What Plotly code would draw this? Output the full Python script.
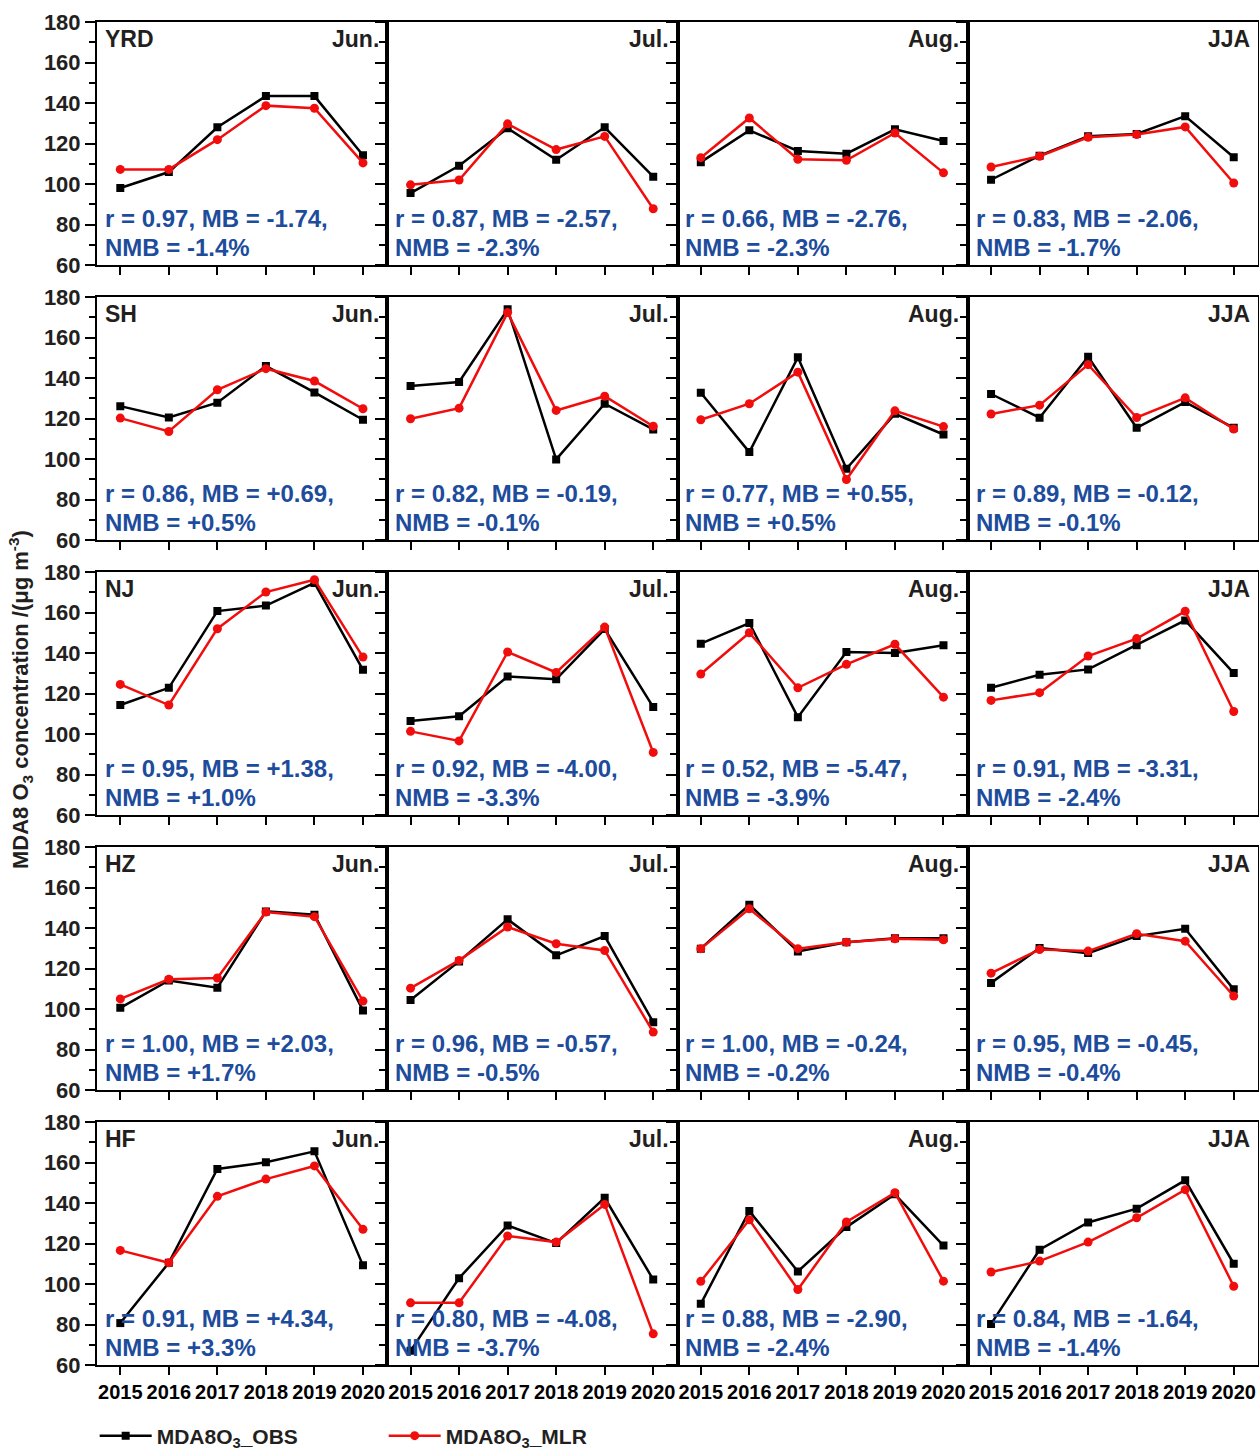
import plotly.graph_objects as go
from plotly.subplots import make_subplots

# ---------------- data ----------------
years = [2015, 2016, 2017, 2018, 2019, 2020]
regions = ["YRD", "SH", "NJ", "HZ", "HF"]
periods = ["Jun.", "Jul.", "Aug.", "JJA"]

# observed MDA8 O3 (Jun, Jul, Aug, JJA)
YRD_OBS_JUN = [98.0, 105.9, 128.0, 143.4, 143.4, 114.2]
YRD_OBS_JUL = [95.5, 109.0, 127.5, 112.0, 128.0, 103.6]
YRD_OBS_AUG = [110.8, 126.5, 116.3, 115.0, 127.0, 121.2]
YRD_OBS_JJA = [102.1, 114.0, 123.6, 124.7, 133.5, 113.2]
SH_OBS_JUN = [126.1, 120.5, 127.8, 145.9, 132.9, 119.4]
SH_OBS_JUL = [136.0, 138.0, 173.9, 99.8, 127.3, 114.6]
SH_OBS_AUG = [132.7, 103.4, 150.2, 95.2, 122.3, 112.1]
SH_OBS_JJA = [132.1, 120.4, 150.5, 115.4, 128.1, 115.4]
NJ_OBS_JUN = [114.3, 122.8, 160.7, 163.4, 174.6, 131.7]
NJ_OBS_JUL = [106.4, 108.8, 128.4, 127.0, 151.8, 113.3]
NJ_OBS_AUG = [144.6, 154.8, 108.3, 140.5, 140.0, 143.8]
NJ_OBS_JJA = [122.8, 129.3, 131.9, 143.8, 156.1, 130.1]
HZ_OBS_JUN = [100.6, 114.1, 110.5, 148.2, 146.6, 99.3]
HZ_OBS_JUL = [104.4, 123.5, 144.3, 126.5, 136.0, 93.5]
HZ_OBS_AUG = [129.8, 151.5, 128.4, 133.0, 135.0, 135.0]
HZ_OBS_JJA = [112.9, 130.1, 127.6, 136.0, 139.6, 109.7]
HF_OBS_JUN = [80.7, 110.5, 156.8, 160.1, 165.5, 109.2]
HF_OBS_JUL = [67.0, 102.9, 128.9, 120.2, 142.6, 102.2]
HF_OBS_AUG = [90.2, 136.0, 106.2, 128.1, 144.3, 119.0]
HF_OBS_JJA = [80.3, 116.9, 130.4, 137.2, 151.2, 110.0]

# MLR-modelled MDA8 O3 (Jun, Jul, Aug, JJA)
YRD_MLR_JUN = [107.2, 107.2, 121.9, 138.7, 137.4, 110.4]
YRD_MLR_JUL = [99.6, 102.0, 129.7, 117.0, 123.5, 87.8]
YRD_MLR_AUG = [113.0, 132.6, 112.2, 111.7, 125.2, 105.5]
YRD_MLR_JJA = [108.4, 113.7, 123.1, 124.4, 128.2, 100.5]
SH_MLR_JUN = [120.2, 113.6, 134.2, 144.6, 138.5, 124.8]
SH_MLR_JUL = [119.9, 125.1, 172.3, 124.0, 131.0, 116.2]
SH_MLR_AUG = [119.4, 127.3, 142.9, 89.9, 123.8, 116.0]
SH_MLR_JJA = [122.2, 126.6, 146.6, 120.5, 130.2, 114.8]
NJ_MLR_JUN = [124.5, 114.3, 152.0, 170.1, 176.2, 138.0]
NJ_MLR_JUL = [101.3, 96.6, 140.5, 130.4, 152.8, 90.9]
NJ_MLR_AUG = [129.6, 150.0, 122.8, 134.4, 144.3, 118.2]
NJ_MLR_JJA = [116.6, 120.4, 138.5, 147.1, 160.6, 111.1]
HZ_MLR_JUN = [105.0, 114.7, 115.3, 147.9, 145.6, 103.9]
HZ_MLR_JUL = [110.3, 124.0, 140.5, 132.2, 128.9, 88.6]
HZ_MLR_AUG = [129.8, 149.5, 129.8, 133.0, 134.7, 134.2]
HZ_MLR_JJA = [117.7, 129.4, 128.6, 137.2, 133.5, 106.4]
HF_MLR_JUN = [116.6, 110.5, 143.3, 151.8, 158.3, 127.0]
HF_MLR_JUL = [90.7, 90.7, 123.7, 120.7, 139.3, 75.4]
HF_MLR_AUG = [101.3, 131.7, 97.3, 130.6, 145.1, 101.4]
HF_MLR_JJA = [105.9, 111.3, 120.7, 132.7, 146.6, 98.9]

# statistics text per region (Jun, Jul, Aug, JJA)
YRD_R = ["0.97", "0.87", "0.66", "0.83"]
YRD_MB = ["-1.74", "-2.57", "-2.76", "-2.06"]
YRD_NMB = ["-1.4%", "-2.3%", "-2.3%", "-1.7%"]
SH_R = ["0.86", "0.82", "0.77", "0.89"]
SH_MB = ["+0.69", "-0.19", "+0.55", "-0.12"]
SH_NMB = ["+0.5%", "-0.1%", "+0.5%", "-0.1%"]
NJ_R = ["0.95", "0.92", "0.52", "0.91"]
NJ_MB = ["+1.38", "-4.00", "-5.47", "-3.31"]
NJ_NMB = ["+1.0%", "-3.3%", "-3.9%", "-2.4%"]
HZ_R = ["1.00", "0.96", "1.00", "0.95"]
HZ_MB = ["+2.03", "-0.57", "-0.24", "-0.45"]
HZ_NMB = ["+1.7%", "-0.5%", "-0.2%", "-0.4%"]
HF_R = ["0.91", "0.80", "0.88", "0.84"]
HF_MB = ["+4.34", "-4.08", "-2.90", "-1.64"]
HF_NMB = ["+3.3%", "-3.7%", "-2.4%", "-1.4%"]

y_ticks = [60, 80, 100, 120, 140, 160, 180]
y_minor = [70, 90, 110, 130, 150, 170]

OBS = {
    "YRD": [YRD_OBS_JUN, YRD_OBS_JUL, YRD_OBS_AUG, YRD_OBS_JJA],
    "SH": [SH_OBS_JUN, SH_OBS_JUL, SH_OBS_AUG, SH_OBS_JJA],
    "NJ": [NJ_OBS_JUN, NJ_OBS_JUL, NJ_OBS_AUG, NJ_OBS_JJA],
    "HZ": [HZ_OBS_JUN, HZ_OBS_JUL, HZ_OBS_AUG, HZ_OBS_JJA],
    "HF": [HF_OBS_JUN, HF_OBS_JUL, HF_OBS_AUG, HF_OBS_JJA],
}
MLR = {
    "YRD": [YRD_MLR_JUN, YRD_MLR_JUL, YRD_MLR_AUG, YRD_MLR_JJA],
    "SH": [SH_MLR_JUN, SH_MLR_JUL, SH_MLR_AUG, SH_MLR_JJA],
    "NJ": [NJ_MLR_JUN, NJ_MLR_JUL, NJ_MLR_AUG, NJ_MLR_JJA],
    "HZ": [HZ_MLR_JUN, HZ_MLR_JUL, HZ_MLR_AUG, HZ_MLR_JJA],
    "HF": [HF_MLR_JUN, HF_MLR_JUL, HF_MLR_AUG, HF_MLR_JJA],
}
STATS = {
    "YRD": (YRD_R, YRD_MB, YRD_NMB),
    "SH": (SH_R, SH_MB, SH_NMB),
    "NJ": (NJ_R, NJ_MB, NJ_NMB),
    "HZ": (HZ_R, HZ_MB, HZ_NMB),
    "HF": (HF_R, HF_MB, HF_NMB),
}

# ---------------- figure ----------------
W, H = 1259, 1453
ML, MR, MT, MB_ = 97, 1, 22, 88
plot_h = H - MT - MB_
row_h = 243
gap = plot_h - 5 * row_h
vgap = gap / 4

FONT = "Liberation Sans, Arial, sans-serif"
BLACK = "#000000"
RED = "#f20d0d"
BLUE = "#1d4c9c"
DARK = "#231f20"

fig = make_subplots(rows=5, cols=4, horizontal_spacing=0,
                    vertical_spacing=vgap / plot_h)

for i, reg in enumerate(regions):
    r_list, mb_list, nmb_list = STATS[reg]
    for j, per in enumerate(periods):
        row, col = i + 1, j + 1
        first = (i == 0 and j == 0)
        fig.add_trace(go.Scatter(
            x=years, y=OBS[reg][j], mode="lines+markers",
            name="MDA8O<sub>3</sub>_OBS", legendgroup="obs", showlegend=first,
            line=dict(color=BLACK, width=2.5),
            marker=dict(symbol="square", size=8, color=BLACK),
        ), row=row, col=col)
        fig.add_trace(go.Scatter(
            x=years, y=MLR[reg][j], mode="lines+markers",
            name="MDA8O<sub>3</sub>_MLR", legendgroup="mlr", showlegend=first,
            line=dict(color=RED, width=2.5),
            marker=dict(symbol="circle", size=9, color=RED),
        ), row=row, col=col)

        fig.update_xaxes(
            range=[2014.52, 2020.5], tickvals=years, ticktext=[str(y) for y in years],
            ticks="outside", ticklen=8, tickwidth=2, tickcolor=BLACK,
            showline=True, linecolor=BLACK, linewidth=2, mirror=True,
            showgrid=False, zeroline=False,
            showticklabels=(i == 4),
            tickfont=dict(family=FONT, size=20, color=BLACK, weight="bold"),
            row=row, col=col)
        fig.update_yaxes(
            range=[60, 180], tickvals=y_ticks,
            ticks="outside", ticklen=10, tickwidth=2, tickcolor=BLACK,
            minor=dict(tickvals=y_minor, ticks="outside", ticklen=6,
                       tickwidth=2, tickcolor=BLACK),
            showline=True, linecolor=BLACK, linewidth=2, mirror=True,
            showgrid=False, zeroline=False,
            showticklabels=(j == 0),
            tickfont=dict(family=FONT, size=22, color=DARK, weight="bold"),
            row=row, col=col)

        idx = i * 4 + j + 1
        xd = "x domain" if idx == 1 else f"x{idx} domain"
        yd = "y domain" if idx == 1 else f"y{idx} domain"
        if j == 0:
            fig.add_annotation(text=reg, xref=xd, yref=yd, x=0.022, y=0.93,
                               xanchor="left", yanchor="middle", showarrow=False,
                               font=dict(family=FONT, size=23, color=DARK, weight="bold"))
        fig.add_annotation(text=per, xref=xd, yref=yd, x=0.978, y=0.93,
                           xanchor="right", yanchor="middle", showarrow=False,
                           font=dict(family=FONT, size=23, color=DARK, weight="bold"))
        fig.add_annotation(text=f"r = {r_list[j]}, MB = {mb_list[j]},",
                           xref=xd, yref=yd, x=0.02, y=0.19,
                           xanchor="left", yanchor="middle", showarrow=False,
                           font=dict(family=FONT, size=24, color=BLUE, weight="bold"))
        fig.add_annotation(text=f"NMB = {nmb_list[j]}",
                           xref=xd, yref=yd, x=0.02, y=0.072,
                           xanchor="left", yanchor="middle", showarrow=False,
                           font=dict(family=FONT, size=24, color=BLUE, weight="bold"))

# y-axis title
fig.add_annotation(text="MDA8 O<sub>3</sub> concentration /(μg m<sup>-3</sup>)",
                   xref="paper", yref="paper",
                   x=(20 - ML) / (W - ML - MR), y=(H - MB_ - 700) / plot_h,
                   xanchor="center", yanchor="middle", textangle=-90, showarrow=False,
                   font=dict(family=FONT, size=22, color=DARK, weight="bold"))

ITEMW = 52
fig.update_layout(
    width=W, height=H,
    margin=dict(l=ML, r=MR, t=MT, b=MB_, autoexpand=False),
    paper_bgcolor="white", plot_bgcolor="white",
    showlegend=True,
    legend=dict(orientation="h", x=-0.002, xanchor="left",
                y=-(1436 - (H - MB_)) / plot_h, yanchor="middle",
                entrywidth=290 - ITEMW - 16, entrywidthmode="pixels",
                font=dict(family=FONT, size=21, color=DARK, weight="bold"),
                bgcolor="rgba(0,0,0,0)", itemwidth=ITEMW),
)

fig.write_html("out.html")
